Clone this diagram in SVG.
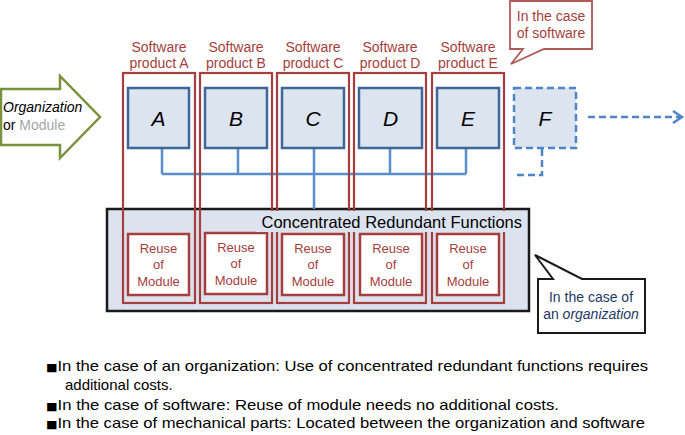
<svg xmlns="http://www.w3.org/2000/svg" width="685" height="435" viewBox="0 0 685 435">
<defs>
<style>
.sans{font-family:"Liberation Sans",Arial,sans-serif}
.prod{fill:none;stroke:#a53e3c;stroke-width:2.2}
.plabel{font-family:"Liberation Sans",Arial,sans-serif;font-size:14px;fill:#a53e3c;text-anchor:middle}
.box{fill:#dce4f0;stroke:#3d6699;stroke-width:2.5}
.letter{font-family:"Liberation Sans",Arial,sans-serif;font-size:21px;font-style:italic;fill:#000;text-anchor:middle}
.reuse{fill:#fff;stroke:#a53e3c;stroke-width:2.5}
.rtext{font-family:"Liberation Sans",Arial,sans-serif;font-size:13px;fill:#a53e3c;text-anchor:middle}
.conn{fill:none;stroke:#5b8fcb;stroke-width:2.5}
.dash{fill:none;stroke:#4f85c6;stroke-width:2.5;stroke-dasharray:7 4}
.bullet{font-family:"Liberation Sans",Arial,sans-serif;font-size:15px;fill:#000}
.sq{font-family:"DejaVu Sans",sans-serif;font-size:11px}
</style>
</defs>
<rect width="685" height="435" fill="#fff"/>

<g id="concentrated">
<rect x="107" y="209" width="422" height="102" fill="#dce3ee" stroke="#1a1a1a" stroke-width="2.5"/>
</g>

<g id="input-arrow">
<path d="M1,89 L60,89 L60,76 L100,117 L60,158 L60,145 L1,145 Z" fill="#fff" stroke="#77933c" stroke-width="2.5"/>
<text class="sans" x="3" y="112" font-size="14" font-style="italic" fill="#000">Organization</text>
<text class="sans" x="3" y="130" font-size="14" fill="#000">or <tspan fill="#a6a6a6">Module</tspan></text>
</g>

<g id="connectors">
<path class="conn" d="M162,148 V174 M238,148 V174 M390,148 V174 M466,148 V174 M162,174 H466 M314,148 V209"/>
<path class="dash" d="M542,149 V175 H516"/>
<path class="dash" d="M588,117 H680"/>
<path d="M673,111 L682,117 L673,123" fill="none" stroke="#4f85c6" stroke-width="2.5"/>
</g>

<g id="product-A">
<rect class="prod" x="123" y="73" width="72" height="230"/>
<text class="plabel" x="159" y="52">Software</text>
<text class="plabel" x="159" y="68">product A</text>
<rect class="box" x="128" y="88" width="61" height="60"/>
<text class="letter" x="158.5" y="126">A</text>
<rect class="reuse" x="128" y="234" width="61" height="61"/>
<text class="rtext" x="158.5" y="253">Reuse</text>
<text class="rtext" x="158.5" y="269">of</text>
<text class="rtext" x="158.5" y="286">Module</text>
</g>
<g id="product-B">
<rect class="prod" x="200" y="73" width="72" height="230"/>
<text class="plabel" x="236" y="52">Software</text>
<text class="plabel" x="236" y="68">product B</text>
<rect class="box" x="205" y="88" width="62" height="60"/>
<text class="letter" x="236" y="126">B</text>
<rect class="reuse" x="205" y="233" width="62" height="61"/>
<text class="rtext" x="236" y="252">Reuse</text>
<text class="rtext" x="236" y="268">of</text>
<text class="rtext" x="236" y="285">Module</text>
</g>
<g id="product-C">
<rect class="prod" x="277" y="73" width="72" height="230"/>
<text class="plabel" x="313" y="52">Software</text>
<text class="plabel" x="313" y="68">product C</text>
<rect class="box" x="282" y="88" width="62" height="60"/>
<text class="letter" x="313" y="126">C</text>
<rect class="reuse" x="282" y="234" width="62" height="61"/>
<text class="rtext" x="313" y="253">Reuse</text>
<text class="rtext" x="313" y="269">of</text>
<text class="rtext" x="313" y="286">Module</text>
</g>
<g id="product-D">
<rect class="prod" x="354" y="73" width="72" height="230"/>
<text class="plabel" x="390" y="52">Software</text>
<text class="plabel" x="390" y="68">product D</text>
<rect class="box" x="359" y="88" width="63" height="60"/>
<text class="letter" x="390.5" y="126">D</text>
<rect class="reuse" x="360" y="234" width="62" height="61"/>
<text class="rtext" x="391" y="253">Reuse</text>
<text class="rtext" x="391" y="269">of</text>
<text class="rtext" x="391" y="286">Module</text>
</g>
<g id="product-E">
<rect class="prod" x="432" y="73" width="72" height="230"/>
<text class="plabel" x="468" y="52">Software</text>
<text class="plabel" x="468" y="68">product E</text>
<rect class="box" x="437" y="88" width="62" height="60"/>
<text class="letter" x="468" y="126">E</text>
<rect class="reuse" x="437" y="234" width="62" height="61"/>
<text class="rtext" x="468" y="253">Reuse</text>
<text class="rtext" x="468" y="269">of</text>
<text class="rtext" x="468" y="286">Module</text>
</g>

<g id="node-F">
<rect x="514" y="88" width="62" height="60" fill="#dce4f0" stroke="#4f85c6" stroke-width="2.5" stroke-dasharray="7 4"/>
<text class="letter" x="545" y="126">F</text>
</g>

<g id="concentrated-label">
<rect x="256" y="211" width="270" height="21" fill="#dce3ee"/>
<text class="sans" x="522" y="228" font-size="16.5" fill="#000" text-anchor="end">Concentrated Redundant Functions</text>
</g>

<g id="callout-software">
<path d="M510,1 H592 V49 H544 L511,64 L523,49 H510 Z" fill="#fff" stroke="#b05a58" stroke-width="1.8"/>
<text class="sans" x="551" y="21" font-size="14" fill="#a53e3c" text-anchor="middle">In the case</text>
<text class="sans" x="551" y="38" font-size="14" fill="#a53e3c" text-anchor="middle">of software</text>
</g>

<g id="callout-organization">
<path d="M538,279 H553 L535,255 L582,279 H645 V333 H538 Z" fill="#fff" stroke="#1a1a1a" stroke-width="2"/>
<text class="sans" x="591" y="302" font-size="14" fill="#1f3864" text-anchor="middle">In the case of</text>
<text class="sans" x="591" y="319" font-size="14" fill="#1f3864" text-anchor="middle">an <tspan font-style="italic">organization</tspan></text>
</g>

<g id="notes">
<text class="bullet" x="46" y="371" textLength="602" lengthAdjust="spacingAndGlyphs"><tspan class="sq">■</tspan>In the case of an organization: Use of concentrated redundant functions requires</text>
<text class="bullet" x="65" y="390">additional costs.</text>
<text class="bullet" x="46" y="410" textLength="513" lengthAdjust="spacingAndGlyphs"><tspan class="sq">■</tspan>In the case of software:  Reuse of module needs no additional costs.</text>
<text class="bullet" x="46" y="428" textLength="599" lengthAdjust="spacingAndGlyphs"><tspan class="sq">■</tspan>In the case of mechanical parts: Located between the organization and software</text>
</g>
</svg>
